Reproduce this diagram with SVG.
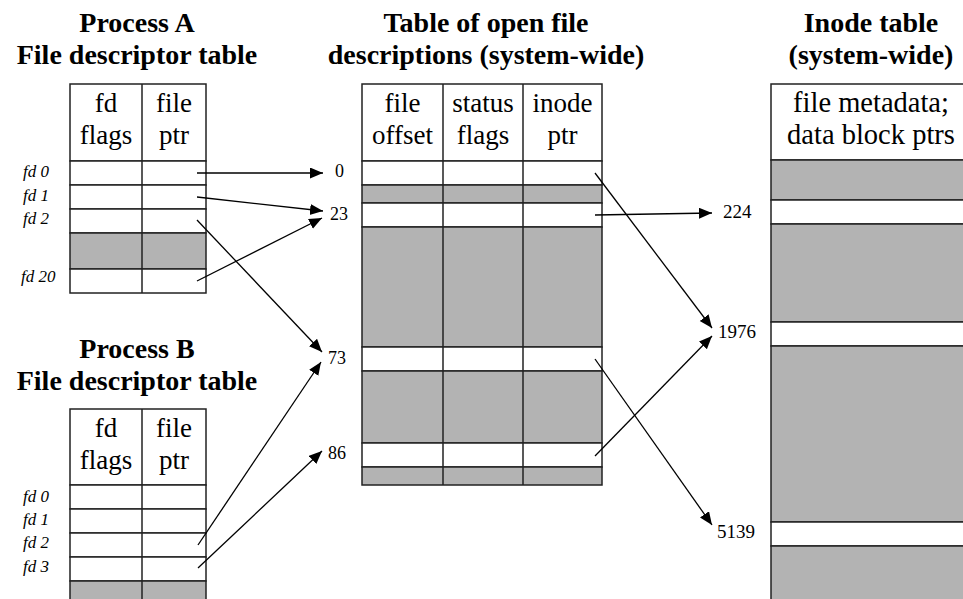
<svg xmlns="http://www.w3.org/2000/svg" width="963" height="599" viewBox="0 0 963 599">
<style>
.t{font-family:"Liberation Serif","Times New Roman",serif;font-weight:bold;font-size:28px;fill:#000;text-anchor:middle}
.h{font-family:"Liberation Serif","Times New Roman",serif;font-size:27px;fill:#000;text-anchor:middle}
.fd{font-family:"Liberation Serif","Times New Roman",serif;font-style:italic;font-size:17px;fill:#000}
.n{font-family:"Liberation Serif","Times New Roman",serif;font-size:18px;fill:#000}
.m{font-family:"Liberation Serif","Times New Roman",serif;font-size:19px;fill:#000}
.w{fill:#fff;stroke:#222;stroke-width:1.5}
.g{fill:#b3b3b3;stroke:#222;stroke-width:1.5}
.ln{stroke:#222;stroke-width:1.5;fill:none}
.c{stroke:#000;stroke-width:1.3;fill:none;marker-end:url(#ah)}
</style>
<defs>
<marker id="ah" markerUnits="userSpaceOnUse" markerWidth="14" markerHeight="12" refX="13" refY="5.5" orient="auto">
<path d="M0,0 L13,5.5 L0,11 Z" fill="#000"/>
</marker>
</defs>
<rect width="963" height="599" fill="#fff"/>

<g id="processA">
<text class="t" x="137" y="32">Process A</text>
<text class="t" x="137" y="64">File descriptor table</text>
<rect class="w" x="70" y="84" width="136" height="77"/>
<rect class="w" x="70" y="161" width="136" height="24"/>
<rect class="w" x="70" y="185" width="136" height="24"/>
<rect class="w" x="70" y="209" width="136" height="24"/>
<rect class="g" x="70" y="233" width="136" height="36"/>
<rect class="w" x="70" y="269" width="136" height="24"/>
<line class="ln" x1="142" y1="84" x2="142" y2="293"/>
<text class="h" x="106" y="112">fd</text>
<text class="h" x="106" y="144">flags</text>
<text class="h" x="174" y="112">file</text>
<text class="h" x="174" y="144">ptr</text>
<text class="fd" x="23" y="177">fd 0</text>
<text class="fd" x="23" y="201">fd 1</text>
<text class="fd" x="23" y="224">fd 2</text>
<text class="fd" x="21" y="282">fd 20</text>
</g>

<g id="processB">
<text class="t" x="137" y="358">Process B</text>
<text class="t" x="137" y="390">File descriptor table</text>
<rect class="w" x="70" y="409" width="136" height="76"/>
<rect class="w" x="70" y="485" width="136" height="24"/>
<rect class="w" x="70" y="509" width="136" height="24"/>
<rect class="w" x="70" y="533" width="136" height="24"/>
<rect class="w" x="70" y="557" width="136" height="24"/>
<rect class="g" x="70" y="581" width="136" height="30"/>
<line class="ln" x1="142" y1="409" x2="142" y2="600"/>
<text class="h" x="106" y="437">fd</text>
<text class="h" x="106" y="469">flags</text>
<text class="h" x="174" y="437">file</text>
<text class="h" x="174" y="469">ptr</text>
<text class="fd" x="23" y="502">fd 0</text>
<text class="fd" x="23" y="525">fd 1</text>
<text class="fd" x="23" y="548">fd 2</text>
<text class="fd" x="23" y="572">fd 3</text>
</g>

<g id="openFileTable">
<text class="t" x="486" y="32">Table of open file</text>
<text class="t" x="486" y="64">descriptions (system-wide)</text>
<rect class="w" x="362" y="84" width="240" height="77"/>
<rect class="w" x="362" y="161" width="240" height="24"/>
<rect class="g" x="362" y="185" width="240" height="18"/>
<rect class="w" x="362" y="203" width="240" height="24"/>
<rect class="g" x="362" y="227" width="240" height="120"/>
<rect class="w" x="362" y="347" width="240" height="24"/>
<rect class="g" x="362" y="371" width="240" height="72"/>
<rect class="w" x="362" y="443" width="240" height="24"/>
<rect class="g" x="362" y="467" width="240" height="18"/>
<line class="ln" x1="443" y1="84" x2="443" y2="485"/>
<line class="ln" x1="523" y1="84" x2="523" y2="485"/>
<text class="h" x="402.5" y="112">file</text>
<text class="h" x="402.5" y="144">offset</text>
<text class="h" x="483" y="112">status</text>
<text class="h" x="483" y="144">flags</text>
<text class="h" x="562.5" y="112">inode</text>
<text class="h" x="562.5" y="144">ptr</text>
<text class="n" x="335" y="177">0</text>
<text class="n" x="330" y="220">23</text>
<text class="n" x="328" y="364">73</text>
<text class="n" x="328" y="459">86</text>
</g>

<g id="inodeTable">
<text class="t" x="871" y="32">Inode table</text>
<text class="t" x="871" y="64">(system-wide)</text>
<rect class="w" x="771" y="84" width="200" height="76"/>
<rect class="g" x="771" y="160" width="200" height="40"/>
<rect class="w" x="771" y="200" width="200" height="24"/>
<rect class="g" x="771" y="224" width="200" height="98"/>
<rect class="w" x="771" y="322" width="200" height="24"/>
<rect class="g" x="771" y="346" width="200" height="176"/>
<rect class="w" x="771" y="522" width="200" height="24"/>
<rect class="g" x="771" y="546" width="200" height="60"/>
<text class="h" x="871" y="112" style="font-size:28.5px">file metadata;</text>
<text class="h" x="871" y="144" style="font-size:28.5px">data block ptrs</text>
<text class="m" x="723" y="218">224</text>
<text class="m" x="718" y="338">1976</text>
<text class="m" x="717" y="538">5139</text>
</g>

<g id="connectors">
<line class="c" x1="197" y1="173" x2="323" y2="173"/>
<line class="c" x1="197" y1="197" x2="323" y2="211"/>
<line class="c" x1="197" y1="281" x2="322" y2="218"/>
<line class="c" x1="197" y1="220" x2="322" y2="352"/>
<line class="c" x1="198" y1="545" x2="321" y2="362"/>
<line class="c" x1="198" y1="568" x2="322" y2="451"/>
<line class="c" x1="595" y1="173" x2="712" y2="328"/>
<line class="c" x1="595" y1="215" x2="712" y2="213"/>
<line class="c" x1="595" y1="359" x2="712" y2="525"/>
<line class="c" x1="595" y1="456" x2="712" y2="336"/>
</g>
</svg>
